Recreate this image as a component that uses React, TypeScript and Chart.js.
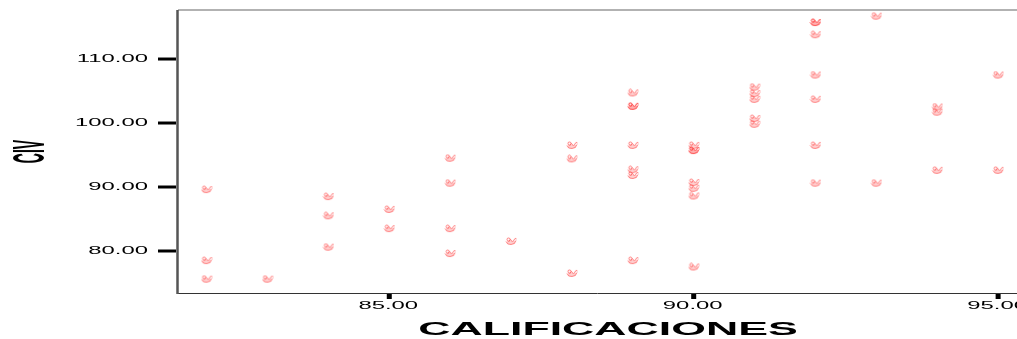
import React, { useEffect, useRef } from "react";
import { Chart, registerables } from "chart.js";

Chart.register(...registerables);

const calificaciones = [
  82, 82, 82,
  83,
  84, 84, 84,
  85, 85,
  86, 86, 86, 86,
  87,
  88, 88, 88,
  89, 89, 89, 89, 89, 89, 89,
  90, 90, 90, 90, 90, 90, 90,
  91, 91, 91, 91, 91,
  92, 92, 92, 92, 92, 92, 92,
  93, 93,
  94, 94, 94,
  95, 95,
];
const civ = [
  89.6, 78.5, 75.6,
  75.6,
  88.5, 85.5, 80.6,
  86.5, 83.5,
  94.5, 90.6, 83.5, 79.6,
  81.5,
  96.5, 94.4, 76.5,
  104.7, 102.6, 102.6, 96.5, 92.7, 91.8, 78.5,
  96.5, 95.7, 95.7, 90.7, 89.8, 88.6, 77.5,
  105.6, 104.6, 103.7, 100.7, 99.8,
  115.7, 115.7, 113.8, 107.5, 103.7, 96.5, 90.6,
  116.7, 90.6,
  102.5, 101.7, 92.6,
  107.5, 92.6,
];
const xTicks = [85, 90, 95];
const yTicks = [80, 90, 100, 110];
const xTitle = "CALIFICACIONES";
const yTitle = "CIV";

function makeGlyph(): HTMLCanvasElement {
  const c = document.createElement("canvas");
  c.width = 12;
  c.height = 9;
  const g = c.getContext("2d")!;
  g.strokeStyle = "rgba(255,70,70,0.7)";
  g.lineWidth = 1;
  g.beginPath();
  g.moveTo(1, 4.5);
  g.quadraticCurveTo(2, 8, 6, 7.5);
  g.quadraticCurveTo(10, 7.5, 11, 3.5);
  g.stroke();
  g.beginPath();
  g.moveTo(3.5, 5);
  g.lineTo(5.5, 2.5);
  g.lineTo(7.5, 5);
  g.stroke();
  g.beginPath();
  g.arc(3.5, 2.5, 1.5, 0, Math.PI * 2);
  g.stroke();
  g.beginPath();
  g.moveTo(8, 4.5);
  g.lineTo(10, 1.5);
  g.lineTo(11.5, 2);
  g.stroke();
  g.fillStyle = "rgba(255,120,120,0.35)";
  g.fillRect(2, 4, 8, 3);
  return c;
}

function stretchedText(
  ctx: CanvasRenderingContext2D,
  text: string,
  x: number,
  y: number,
  sx: number,
  font: string,
  align: CanvasTextAlign
) {
  ctx.save();
  ctx.translate(x, y);
  ctx.scale(sx, 1);
  ctx.font = font;
  ctx.textAlign = align;
  ctx.textBaseline = "middle";
  ctx.fillStyle = "#000";
  ctx.fillText(text, 0, 0);
  ctx.restore();
}

const decorPlugin = {
  id: "decor",
  afterDatasetsDraw(chart: any) {
    const ctx: CanvasRenderingContext2D = chart.ctx;
    const a = chart.chartArea;
    const xs = chart.scales.x;
    const ys = chart.scales.y;
    ctx.save();
    // top border
    ctx.strokeStyle = "#999";
    ctx.lineWidth = 1.5;
    ctx.beginPath();
    ctx.moveTo(a.left, a.top);
    ctx.lineTo(a.right, a.top);
    ctx.stroke();
    // bottom border
    ctx.strokeStyle = "#333";
    ctx.lineWidth = 1;
    ctx.beginPath();
    ctx.moveTo(a.left, a.bottom - 0.5);
    ctx.lineTo(a.right, a.bottom - 0.5);
    ctx.stroke();
    // left border
    ctx.strokeStyle = "#555";
    ctx.lineWidth = 2.5;
    ctx.beginPath();
    ctx.moveTo(a.left - 0.5, a.top);
    ctx.lineTo(a.left - 0.5, a.bottom);
    ctx.stroke();
    // y ticks
    ctx.strokeStyle = "#000";
    ctx.lineWidth = 3;
    for (const v of yTicks) {
      const py = ys.getPixelForValue(v);
      ctx.beginPath();
      ctx.moveTo(a.left - 20, py);
      ctx.lineTo(a.left - 2, py);
      ctx.stroke();
      stretchedText(ctx, v.toFixed(2), a.left - 30, py, 2.17, "11px 'Liberation Sans', Arial, sans-serif", "right");
    }
    // x ticks
    ctx.fillStyle = "#000";
    for (const v of xTicks) {
      const px = xs.getPixelForValue(v);
      ctx.fillRect(px - 2.5, a.bottom, 5, 5);
      stretchedText(ctx, v.toFixed(2), px - 1, a.bottom + 12, 2.17, "11px 'Liberation Sans', Arial, sans-serif", "center");
    }
    // x title
    stretchedText(ctx, xTitle, 608, 330, 2.35, "bold 19px 'Liberation Sans', Arial, sans-serif", "center");
    // y title (rotated)
    ctx.save();
    ctx.translate(31.5, 151.5);
    ctx.scale(3.2, 1);
    ctx.rotate(-Math.PI / 2);
    ctx.font = "bold 14px 'Liberation Sans', Arial, sans-serif";
    ctx.textAlign = "center";
    ctx.textBaseline = "middle";
    ctx.fillStyle = "#000";
    ctx.fillText(yTitle, 0, 0);
    ctx.restore();
    ctx.restore();
  },
};

export default function App() {
  const ref = useRef<HTMLCanvasElement>(null);
  useEffect(() => {
    if (!ref.current) return;
    const glyph = makeGlyph();
    const points = calificaciones.map((x, i) => ({ x, y: civ[i] }));
    const chart = new Chart(ref.current, {
      type: "scatter",
      data: {
        datasets: [
          {
            data: points,
            pointStyle: glyph as any,
            pointRadius: 5,
            backgroundColor: "rgba(255,70,70,0.7)",
            borderColor: "rgba(255,70,70,0.7)",
          },
        ],
      },
      options: {
        animation: false,
        responsive: false,
        maintainAspectRatio: false,
        layout: { autoPadding: false, padding: { left: 178, top: 10, right: 0, bottom: 45 } },
        plugins: { legend: { display: false }, tooltip: { enabled: false } },
        scales: {
          x: { type: "linear", min: 81.53, max: 95.31, display: false },
          y: { type: "linear", min: 73.28, max: 117.66, display: false },
        },
      },
      plugins: [decorPlugin],
    });
    return () => chart.destroy();
  }, []);
  return (
    <div style={{ position: "fixed", left: 0, top: 0, width: 1017, height: 339, background: "#fff" }}>
      <canvas ref={ref} width={1017} height={339} style={{ width: 1017, height: 339, display: "block" }} />
    </div>
  );
}
